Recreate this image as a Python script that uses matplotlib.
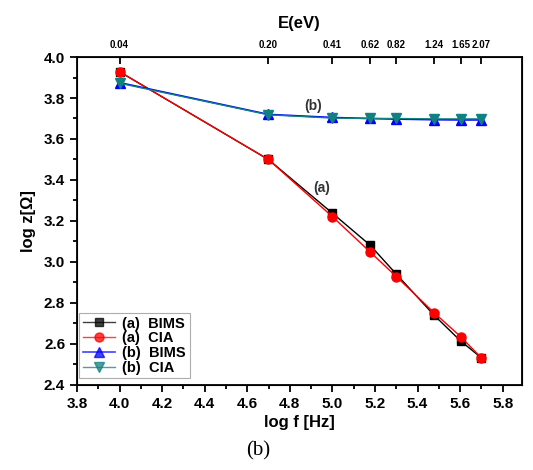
import numpy as np
import matplotlib.pyplot as plt
from matplotlib.ticker import MultipleLocator

plt.rcParams['font.family'] = ['Liberation Sans', 'DejaVu Sans']

# log10 of 10k, 50k, 100k, 150k, 200k, 300k, 400k, 500k Hz
logf = [4.0, 4.699, 5.0, 5.176, 5.301, 5.477, 5.602, 5.699]
energy_labels = ['0.04', '0.20', '0.41', '0.62', '0.82', '1.24', '1.65', '2.07']

a_bims = [3.928, 3.50, 3.238, 3.083, 2.940, 2.741, 2.615, 2.533]
a_cia = [3.928, 3.50, 3.221, 3.050, 2.928, 2.753, 2.636, 2.533]
b_bims = [3.875, 3.720, 3.705, 3.700, 3.697, 3.694, 3.693, 3.693]
b_cia = [3.872, 3.718, 3.702, 3.700, 3.700, 3.698, 3.698, 3.698]

fig = plt.figure(figsize=(5.33, 4.70), dpi=100)
ax = fig.add_axes([0.1445, 0.181, 0.8345, 0.6977])

ax.plot(logf, a_bims, color='black', marker='s', ms=5.5, lw=1, label='(a)  BIMS')
ax.plot(logf, a_cia, color='red', marker='o', ms=6.5, lw=1, label='(a)  CIA')
ax.plot(logf, b_bims, color='blue', marker='^', ms=6.5, lw=1.2, label='(b)  BIMS')
ax.plot(logf, b_cia, color='#108080', marker='v', ms=6.5, lw=1, label='(b)  CIA')

ax.set_xlim(3.8, 5.89)
ax.set_ylim(2.4, 4.0)
ax.xaxis.set_major_locator(MultipleLocator(0.2))
ax.xaxis.set_minor_locator(MultipleLocator(0.1))
ax.yaxis.set_major_locator(MultipleLocator(0.2))
ax.yaxis.set_minor_locator(MultipleLocator(0.1))
ax.tick_params(which='both', direction='out', width=1.3, labelsize=11)
ax.tick_params(which='major', length=5)
ax.tick_params(which='minor', length=3)
for lab in ax.get_xticklabels() + ax.get_yticklabels():
    lab.set_fontweight('bold')
for sp in ax.spines.values():
    sp.set_linewidth(1.3)

ax.set_xlabel('log f [Hz]', fontsize=12, fontweight='bold', labelpad=3)
ax.set_ylabel('log z[Ω]', fontsize=12, fontweight='bold', labelpad=6)

top = ax.twiny()
top.set_xlim(ax.get_xlim())
top.set_xticks(logf)
top.set_xticklabels(energy_labels, fontsize=7, fontweight='bold')
top.tick_params(axis='x', direction='in', length=5, width=1.3, pad=5)
top.set_xlabel('E(eV)', fontsize=12, fontweight='bold', labelpad=9)

ax.text(4.91, 3.76, '(b)', fontsize=10, fontweight='bold', color='#333333', ha='center', va='center')
ax.text(4.95, 3.36, '(a)', fontsize=10, fontweight='bold', color='#333333', ha='center', va='center')

leg = ax.legend(loc='lower left', bbox_to_anchor=(0.005, 0.02), fontsize=10.5, frameon=True,
                fancybox=False, edgecolor='#999999', handlelength=2.2, borderpad=0.25,
                labelspacing=0.05, handletextpad=0.5, borderaxespad=0.0)
leg.get_frame().set_linewidth(0.8)
for t in leg.get_texts():
    t.set_fontweight('bold')
for h in leg.legend_handles:
    h.set_alpha(0.75)

fig.text(0.484, 0.02, '(b)', fontsize=15, family='Liberation Serif', ha='center', va='bottom')

fig.savefig('out.png', dpi=100)
